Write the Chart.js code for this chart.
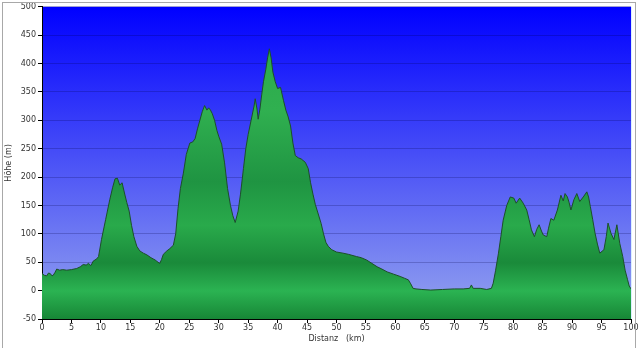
<!DOCTYPE html>
<html>
<head>
<meta charset="utf-8">
<script src="https://cdn.jsdelivr.net/npm/chart.js@4"></script>
<style>
html,body{margin:0;padding:0;background:#fff;overflow:hidden;}
#wrap{position:relative;width:640px;height:348px;}
#frame{position:absolute;left:2px;top:2px;width:632px;height:360px;border:1px solid #a8a8a8;pointer-events:none;}
</style>
</head>
<body>
<div id="wrap">
<canvas id="c" width="640" height="348"></canvas>
<div id="frame"></div>
</div>
<script>
const km = [0,0.4,0.8,1.1,1.4,1.7,1.9,2.2,2.5,3,3.5,4.2,5,5.9,6.5,7,7.5,7.9,8.3,8.7,9.3,9.6,9.85,10.1,10.8,11.5,12,12.4,12.8,13.2,13.6,14,14.4,14.8,15.2,15.6,16.1,16.6,17.2,17.8,18.5,19.2,19.7,20,20.3,20.6,21.2,21.7,22.3,22.7,23.1,23.5,24,24.5,25.1,25.6,26,26.4,26.8,27.2,27.6,28,28.3,28.6,28.9,29.3,29.7,30,30.5,31,31.5,32,32.4,32.8,33.3,33.7,34.2,34.6,35,35.5,36,36.2,36.5,36.7,37,37.3,37.6,38,38.3,38.6,38.9,39.2,39.6,40,40.5,41,41.4,41.8,42.2,42.6,43,43.5,44,44.7,45.2,45.6,46,46.4,46.9,47.4,47.8,48.2,48.6,49.2,50,51.1,52,53.4,54.2,55.1,56,56.9,57.7,58.6,59.7,60.8,61.5,62.2,62.6,63,63.5,64.5,66,68,70,71.5,72.6,72.9,73.2,74.4,75.5,76.3,76.6,77,77.5,77.9,78.3,78.9,79.5,80.1,80.5,81.1,81.7,82.3,82.7,83.1,83.6,84,84.4,84.8,85.1,85.7,86,86.4,86.9,87.5,88.1,88.5,88.8,89.2,89.5,89.8,90.3,90.8,91.3,91.9,92.5,92.8,93.1,93.5,93.9,94.3,94.7,95.4,95.8,96.1,96.6,97.1,97.6,98.1,98.6,99,99.4,99.7,100];
const elevation = [30,27,26,31,30,26,27,32,38,36,37,36,37,39,42,46,45,48,44,52,56,60,75,90,125,160,182,197,198,186,190,172,155,140,115,95,78,70,66,63,58,54,50,48,55,64,70,74,80,100,145,180,207,240,260,262,268,285,300,315,326,318,322,318,312,300,282,272,258,225,180,150,132,120,140,170,215,250,275,300,325,338,320,302,320,345,368,390,410,426,410,385,368,356,358,335,318,306,290,260,238,234,232,226,215,190,170,152,135,118,100,85,78,72,68,66,64,60,58,54,48,42,38,33,29,25,22,19,12,4,3,2,1,2,3,3,4,10,4,4,2,4,13,35,66,95,124,150,165,163,154,163,154,142,125,107,95,108,116,105,98,95,110,127,124,142,168,158,171,165,155,142,160,171,157,165,174,165,148,125,101,82,66,72,95,119,101,90,116,83,60,36,20,8,3];
const xTicksStep = 5;
const yTicksStep = 50;
const xTitle = 'Distanz   (km)';
const yTitle = 'Höhe (m)';

const bgPlugin = {
  id:'bg',
  beforeDraw(chart){
    const {ctx, chartArea:a} = chart;
    const g = ctx.createLinearGradient(0,a.top,0,a.bottom);
    g.addColorStop(0,'rgb(0,0,255)');
    g.addColorStop(1,'rgb(150,165,238)');
    ctx.save();
    ctx.fillStyle = g;
    ctx.fillRect(a.left,a.top,a.right-a.left,a.bottom-a.top);
    ctx.restore();
  },
  afterDraw(chart){
    const {ctx, chartArea:a} = chart;
    ctx.save();
    ctx.strokeStyle='rgba(210,235,255,0.8)';
    ctx.lineWidth=1;
    ctx.beginPath();
    ctx.moveTo(a.right+0.5,a.top);
    ctx.lineTo(a.right+0.5,a.bottom);
    ctx.stroke();
    ctx.restore();
  }
};

function greenFill(context){
  const chart = context.chart;
  const a = chart.chartArea;
  if(!a) return '#2a4';
  const g = chart.ctx.createLinearGradient(0,a.top,0,a.bottom);
  g.addColorStop(0.0,'#28a648');
  g.addColorStop(0.33,'#30b050');
  g.addColorStop(0.56,'#1f9442');
  g.addColorStop(0.70,'#29aa4b');
  g.addColorStop(0.82,'#1a8a3a');
  g.addColorStop(0.91,'#2bb352');
  g.addColorStop(1.0,'#178636');
  return g;
}

const tickFont = {family:'DejaVu Sans', size:8};
new Chart(document.getElementById('c'),{
  type:'line',
  data:{datasets:[{
    data: km.map((x,i)=>({x:x,y:elevation[i]})),
    borderColor:'#1d4f2a',
    borderWidth:1,
    pointRadius:0,
    tension:0,
    fill:'start',
    backgroundColor: greenFill
  }]},
  options:{
    responsive:false,
    animation:false,
    events:[],
    layout:{padding:{top:5,right:9,left:0,bottom:0}},
    plugins:{legend:{display:false},tooltip:{enabled:false}},
    scales:{
      x:{
        type:'linear', min:0, max:100, z:1,
        ticks:{stepSize:xTicksStep, color:'#333', font:tickFont, padding:0, maxRotation:0, autoSkip:false},
        grid:{display:true, drawOnChartArea:false, color:'#000', tickLength:4},
        border:{color:'#000', width:1},
        title:{display:true, text:xTitle, color:'#333', font:tickFont, padding:{top:2,bottom:4}},
        afterFit(s){ s.height = 29; }
      },
      y:{
        type:'linear', min:-50, max:500, z:1,
        ticks:{stepSize:yTicksStep, color:'#333', font:tickFont, padding:2},
        grid:{color:'rgba(0,0,70,0.22)', tickColor:'#000', tickLength:4},
        border:{color:'#000', width:1},
        title:{display:true, text:yTitle, color:'#333', font:tickFont, padding:{top:4,bottom:4}},
        afterFit(s){ s.width = 42; }
      }
    }
  },
  plugins:[bgPlugin]
});
</script>
</body>
</html>
